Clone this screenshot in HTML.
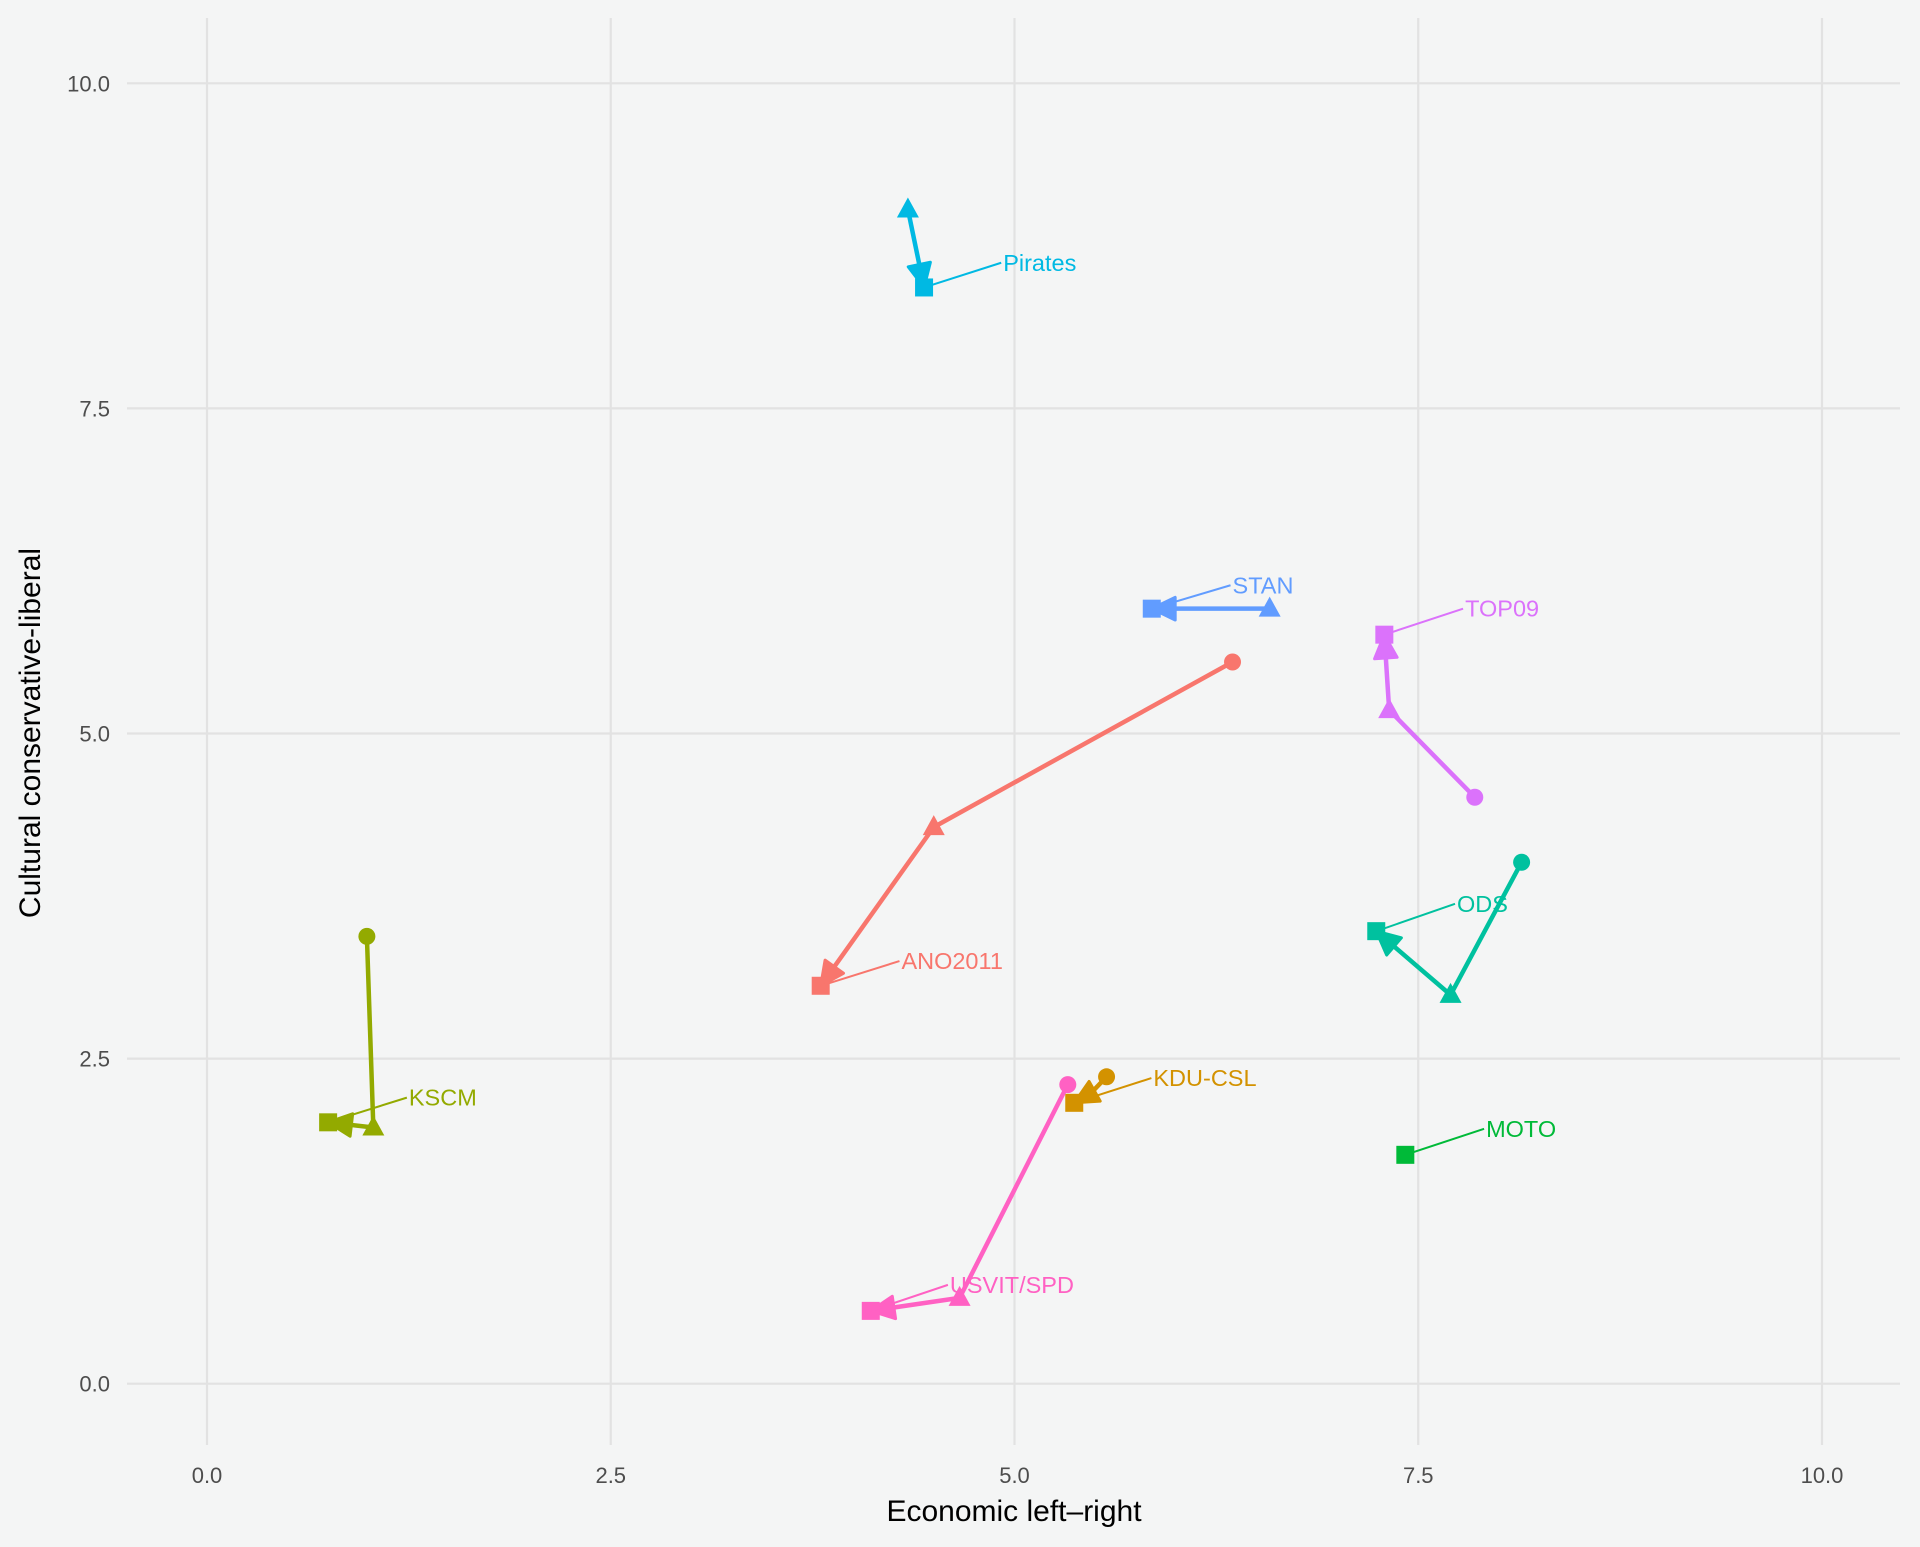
<!DOCTYPE html>
<html><head><meta charset="utf-8"><style>
html,body{margin:0;padding:0;background:#f4f5f5;}
svg{display:block;font-family:"Liberation Sans",sans-serif;}
</style></head><body>
<svg id="chart" width="1920" height="1547" viewBox="0 0 1920 1547" xmlns="http://www.w3.org/2000/svg">
<rect width="1920" height="1547" fill="#f4f5f5"/>
<g id="grid"></g>
<g id="series"></g>
<g id="labels"></g>
<text x="1014" y="1521" font-size="30" text-anchor="middle" fill="#000">Economic left–right</text>
<text transform="translate(40,733) rotate(-90)" font-size="30" text-anchor="middle" fill="#000">Cultural conservative-liberal</text>
</svg>
<script>
const parties = ["ANO2011","KDU-CSL","KSCM","MOTO","ODS","Pirates","STAN","TOP09","USVIT/SPD"];
const colors = ["#F8766D","#D39200","#93AA00","#00BA38","#00C19F","#00B9E3","#619CFF","#DB72FB","#FF61C3"];
// positions per time point: circle (t1), triangle (t2), square (t3); null = absent
const circleX = [6.35,5.57,0.99,null,8.14,null,null,7.85,5.33];
const circleY = [5.55,2.36,3.44,null,4.01,null,null,4.51,2.30];
const triX = [4.50,5.47,1.03,null,7.70,4.34,6.58,7.32,4.66];
const triY = [4.28,2.23,1.97,null,2.99,9.03,5.96,5.18,0.66];
const sqX = [3.80,5.37,0.75,7.42,7.24,4.44,5.85,7.29,4.11];
const sqY = [3.06,2.16,2.01,1.76,3.48,8.43,5.96,5.76,0.56];
const labelX = [4.30,5.86,1.25,7.92,7.74,4.93,6.35,7.79,4.60];
const labelY = [3.25,2.35,2.20,1.96,3.69,8.62,6.14,5.96,0.76];
const xTicks = [0,2.5,5,7.5,10];
const yTicks = [0,2.5,5,7.5,10];
const xTickLabels = ["0.0","2.5","5.0","7.5","10.0"];
const yTickLabels = ["0.0","2.5","5.0","7.5","10.0"];

const NS="http://www.w3.org/2000/svg";
const sx=v=>207+v*161.5;
const sy=v=>1383.7-v*130.04;
function mk(tag,attrs,parent){const e=document.createElementNS(NS,tag);for(const k in attrs)e.setAttribute(k,attrs[k]);parent.appendChild(e);return e;}
const grid=document.getElementById('grid'),ser=document.getElementById('series'),lab=document.getElementById('labels');
xTicks.forEach((t,i)=>{
  const l=mk('line',{x1:sx(t),x2:sx(t),y1:18,y2:1445,stroke:'#e2e2e2','stroke-width':2.2},grid);
  
  
  const tx=mk('text',{x:sx(t),y:1483,'font-size':22,'text-anchor':'middle',fill:'#4d4d4d'},grid);
  tx.textContent=xTickLabels[i];
  
  
});
yTicks.forEach((t,i)=>{
  const l=mk('line',{x1:127,x2:1900,y1:sy(t),y2:sy(t),stroke:'#e2e2e2','stroke-width':2.2},grid);
  
  
  const tx=mk('text',{x:110,y:sy(t)+8,'font-size':22,'text-anchor':'end',fill:'#4d4d4d'},grid);
  tx.textContent=yTickLabels[i];
  
  
});
parties.forEach((p,i)=>{
  const c=colors[i];
  const g=mk('g',{},ser);
  
  
  const pts=[];
  if(circleX[i]!==null)pts.push([sx(circleX[i]),sy(circleY[i])]);
  if(triX[i]!==null)pts.push([sx(triX[i]),sy(triY[i])]);
  pts.push([sx(sqX[i]),sy(sqY[i])]);
  if(pts.length>1){
    const pl=mk('polyline',{points:pts.map(q=>q.join(',')).join(' '),fill:'none',stroke:c,'stroke-width':4.5,'stroke-linejoin':'round'},g);
    
    
    const a=pts[pts.length-2],b=pts[pts.length-1];
    const ang=Math.atan2(b[1]-a[1],b[0]-a[0]),L=26,W=0.45;
    const ah=mk('polygon',{points:[b,[b[0]-L*Math.cos(ang-W),b[1]-L*Math.sin(ang-W)],[b[0]-L*Math.cos(ang+W),b[1]-L*Math.sin(ang+W)]].map(q=>q.join(',')).join(' '),fill:c,stroke:c,'stroke-width':3,'stroke-linejoin':'round'},g);
    
    
  }
  if(circleX[i]!==null){
    const m=mk('circle',{cx:sx(circleX[i]),cy:sy(circleY[i]),r:8.5,fill:c},g);
    
    
  }
  if(triX[i]!==null){
    const x=sx(triX[i]),y=sy(triY[i]);
    const m=mk('polygon',{points:`${x},${y-12} ${x-11},${y+8} ${x+11},${y+8}`,fill:c},g);
    
    
  }
  {
    const x=sx(sqX[i]),y=sy(sqY[i]);
    const m=mk('rect',{x:x-9,y:y-9,width:18,height:18,fill:c},g);
    
    
  }
  const lx=sx(labelX[i]),ly=sy(labelY[i]);
  const seg=mk('line',{x1:sx(sqX[i]),y1:sy(sqY[i]),x2:lx-2,y2:ly,stroke:c,'stroke-width':2},lab);
  
  
  const t=mk('text',{x:lx,y:ly+8,'font-size':23.5,fill:c},lab);
  t.textContent=p;
  
  
});
</script>
</body></html>
